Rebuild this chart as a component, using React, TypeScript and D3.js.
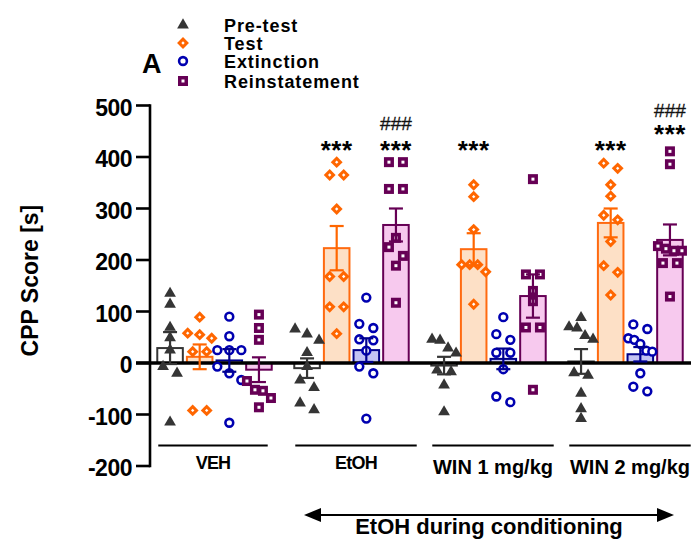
import { useEffect, useRef } from 'react';
import * as d3 from 'd3';

const groups = ['VEH', 'EtOH', 'WIN 1 mg/kg', 'WIN 2 mg/kg'];
const phases = ['Pre-test', 'Test', 'Extinction', 'Reinstatement'];
const yTicks = [-200, -100, 0, 100, 200, 300, 400, 500];

// bar heights (mean) per group
const preTestMean = [29, -10, -5, 3];
const testMean = [12, 223, 221, 272];
const extinctionMean = [5, 25, 8, 17];
const reinstatementMean = [-13, 268, 130, 239];

// SEM per group
const preTestSem = [31, 19, 17, 24];
const testSem = [24, 43, 31, 28];
const extinctionSem = [22, 23, 20, 14];
const reinstatementSem = [24, 32, 42, 30];

// individual animals
const preTestPoints = [
  [135, 114, 69, 49, 25, -7, -20, -115],
  [66, 56, 44, 20, -7, -33, -48, -78, -91],
  [46, 44, 29, 19, -14, -17, -43, -95],
  [88, 70, 68, 46, 53, -19, -24, -59, -89, -108],
];
const testPoints = [
  [89, 48, 55, 58, 22, 22, -92, -92],
  [390, 365, 365, 299, 168, 168, 109, 109, 57],
  [346, 323, 259, 191, 191, 191, 177, 114],
  [388, 378, 346, 324, 278, 287, 236, 189, 176, 132],
];
const extinctionPoints = [
  [90, 52, 25, 25, 25, -7, -20, -33, -116],
  [127, 76, 68, 44, 46, 24, -7, -20, -108],
  [89, 45, 56, 20, 20, -12, -65, -76],
  [75, 66, 48, 45, 37, 24, 22, -20, -46, -55],
];
const reinstatementPoints = [
  [94, 68, 45, -35, -52, -54, -68, -86],
  [390, 390, 338, 338, 243, 225, 208, 189, 117],
  [357, 172, 172, 140, 120, 69, 69, -52],
  [411, 386, 218, 218, 222, 227, 194, 194, 129],
];

// significance marks: vs. pre-test (***) and vs. extinction (###)
const starMarks = [
  { group: 'EtOH', phase: 'Test', value: 395 },
  { group: 'EtOH', phase: 'Reinstatement', value: 395 },
  { group: 'WIN 1 mg/kg', phase: 'Test', value: 395 },
  { group: 'WIN 2 mg/kg', phase: 'Test', value: 395 },
  { group: 'WIN 2 mg/kg', phase: 'Reinstatement', value: 426 },
];
const hashMarks = [
  { group: 'EtOH', phase: 'Reinstatement', value: 452 },
  { group: 'WIN 2 mg/kg', phase: 'Reinstatement', value: 478 },
];

const means = [preTestMean, testMean, extinctionMean, reinstatementMean];
const sems = [preTestSem, testSem, extinctionSem, reinstatementSem];
const points = [preTestPoints, testPoints, extinctionPoints, reinstatementPoints];

const colors = {
  'Pre-test': { mark: '#353535', stroke: '#353535', err: '#353535', fill: '#ffffff' },
  Test: { mark: '#ff6600', stroke: '#ff6a10', err: '#ff6600', fill: '#fde0c6' },
  Extinction: { mark: '#0000b0', stroke: '#000088', err: '#000090', fill: '#c3c3f4' },
  Reinstatement: { mark: '#660055', stroke: '#660055', err: '#660055', fill: '#f7c9ee' },
};

const FONT = '"Liberation Sans", Arial, Helvetica, sans-serif';

function drawMarker(g, phase, x, y) {
  const c = colors[phase].mark;
  if (phase === 'Pre-test') {
    g.append('path')
      .attr('d', d3.symbol(d3.symbolTriangle, 60)())
      .attr('transform', `translate(${x},${y})`)
      .attr('fill', c);
  } else if (phase === 'Test') {
    g.append('rect')
      .attr('x', -4.2).attr('y', -4.2).attr('width', 8.4).attr('height', 8.4)
      .attr('transform', `translate(${x},${y}) rotate(45)`)
      .attr('fill', c);
    g.append('rect')
      .attr('x', -1.2).attr('y', -1.2).attr('width', 2.4).attr('height', 2.4)
      .attr('transform', `translate(${x},${y}) rotate(45)`)
      .attr('fill', '#fff');
  } else if (phase === 'Extinction') {
    g.append('circle')
      .attr('cx', x).attr('cy', y).attr('r', 3.9)
      .attr('fill', '#fff').attr('stroke', c).attr('stroke-width', 2.6);
  } else {
    g.append('rect')
      .attr('x', x - 5).attr('y', y - 5).attr('width', 10).attr('height', 10)
      .attr('fill', c);
    g.append('rect')
      .attr('x', x - 1.5).attr('y', y - 1.5).attr('width', 3).attr('height', 3)
      .attr('fill', '#fff');
  }
}

// spread points that overlap vertically into small side-by-side clusters
function jitter(values, y, maxWidth) {
  const idx = values.map((v, i) => i).sort((a, b) => values[b] - values[a]);
  const offsets = new Array(values.length).fill(0);
  let cluster = [];
  const flush = () => {
    const n = cluster.length;
    const step = n > 1 ? Math.min(14, maxWidth / (n - 1)) : 0;
    cluster.forEach((k, j) => { offsets[k] = (j - (n - 1) / 2) * step; });
    cluster = [];
  };
  idx.forEach((k) => {
    if (cluster.length && y(values[k]) - y(values[cluster[cluster.length - 1]]) >= 9) flush();
    cluster.push(k);
  });
  flush();
  return offsets;
}

const CppChart = ({ width = 691, height = 539 }) => {
  const svgRef = useRef();

  useEffect(() => {
    document.body.style.margin = '0';
    const svg = d3.select(svgRef.current);
    svg.selectAll('*').remove();
    svg.attr('width', width).attr('height', height).style('font-family', FONT).style('display', 'block');

    const y = d3.scaleLinear().domain([-200, 500]).range([466, 105.5]);
    const x0 = d3.scaleBand().domain(groups).range([146, 694]).paddingInner(0.15).paddingOuter(0.075);
    const x1 = d3.scaleBand().domain(phases).range([0, x0.bandwidth()]).paddingInner(0.07);
    const cx = (g, p) => x0(g) + x1(p) + x1.bandwidth() / 2;

    // bars
    const bars = svg.append('g');
    phases.forEach((p, pi) => {
      groups.forEach((g, gi) => {
        const v = means[pi][gi];
        bars.append('rect')
          .attr('x', x0(g) + x1(p) + 1)
          .attr('width', x1.bandwidth() - 2)
          .attr('y', y(Math.max(0, v)))
          .attr('height', Math.abs(y(v) - y(0)))
          .attr('fill', colors[p].fill)
          .attr('stroke', colors[p].stroke)
          .attr('stroke-width', 2);
      });
    });

    // zero line + y axis
    svg.append('line')
      .attr('x1', 136).attr('x2', width).attr('y1', y(0)).attr('y2', y(0))
      .attr('stroke', '#000').attr('stroke-width', 3.5);
    svg.append('line')
      .attr('x1', 150).attr('x2', 150).attr('y1', y(-200) + 1.3).attr('y2', y(500) - 1.3)
      .attr('stroke', '#000').attr('stroke-width', 2.6);
    const ticks = svg.append('g');
    yTicks.forEach((t) => {
      ticks.append('line')
        .attr('x1', 136).attr('x2', 150).attr('y1', y(t)).attr('y2', y(t))
        .attr('stroke', '#000').attr('stroke-width', 2.6);
      ticks.append('text')
        .attr('x', 132).attr('y', y(t) + 2).attr('dy', '0.36em')
        .attr('text-anchor', 'end')
        .style('font-size', '23px').style('font-weight', 'bold')
        .style('letter-spacing', '-0.5px')
        .text(t);
    });
    svg.append('text')
      .attr('transform', `translate(30, ${y(160)}) rotate(-90)`)
      .attr('text-anchor', 'middle').attr('dy', '0.36em')
      .style('font-size', '23px').style('font-weight', 'bold')
      .text('CPP Score [s]');

    // individual points
    const dots = svg.append('g');
    phases.forEach((p, pi) => {
      groups.forEach((g, gi) => {
        const vals = points[pi][gi];
        const offs = jitter(vals, y, 24);
        vals.forEach((v, k) => drawMarker(dots, p, cx(g, p) + offs[k], y(v)));
      });
    });

    // error bars
    const errs = svg.append('g');
    phases.forEach((p, pi) => {
      groups.forEach((g, gi) => {
        const m = means[pi][gi];
        const s = sems[pi][gi];
        const xc = cx(g, p);
        const col = colors[p].err;
        errs.append('line')
          .attr('x1', xc).attr('x2', xc).attr('y1', y(m - s)).attr('y2', y(m + s))
          .attr('stroke', col).attr('stroke-width', 2.2);
        [m - s, m + s].forEach((e) => {
          errs.append('line')
            .attr('x1', xc - 7).attr('x2', xc + 7).attr('y1', y(e)).attr('y2', y(e))
            .attr('stroke', col).attr('stroke-width', 2.2);
        });
      });
    });

    // significance marks
    starMarks.forEach((s) => {
      svg.append('text')
        .attr('x', cx(s.group, s.phase)).attr('y', y(s.value) - 1)
        .attr('text-anchor', 'middle')
        .style('font-size', '26px').style('font-weight', 'bold')
        .style('letter-spacing', '0.5px')
        .text('***');
    });
    hashMarks.forEach((s) => {
      svg.append('text')
        .attr('x', cx(s.group, s.phase)).attr('y', y(s.value))
        .attr('text-anchor', 'middle').attr('fill', '#111')
        .attr('stroke', '#111').attr('stroke-width', 0.3)
        .style('font-size', '19px')
        .text('###');
    });

    // group underlines and labels
    const gl = svg.append('g');
    groups.forEach((g, gi) => {
      const a = x0(g) + 2;
      const b = x0(g) + x0.bandwidth() + (gi === 0 ? -5 : 7);
      gl.append('line')
        .attr('x1', a).attr('x2', b).attr('y1', 445.5).attr('y2', 445.5)
        .attr('stroke', '#000').attr('stroke-width', 2);
      const small = gi < 2;
      gl.append('text')
        .attr('x', (a + b) / 2).attr('y', small ? 469 : 474)
        .attr('text-anchor', 'middle')
        .style('font-size', small ? '18px' : '20px').style('font-weight', 'bold')
        .style('letter-spacing', small ? '-0.8px' : '0px')
        .text(g);
    });

    // conditioning arrow
    const ax0 = 304;
    const ax1 = 674;
    const ay = 515;
    svg.append('line')
      .attr('x1', ax0 + 12).attr('x2', ax1 - 12).attr('y1', ay).attr('y2', ay)
      .attr('stroke', '#000').attr('stroke-width', 2);
    svg.append('path').attr('d', `M${ax0},${ay}L${ax0 + 17},${ay - 7}L${ax0 + 17},${ay + 7}Z`).attr('fill', '#000');
    svg.append('path').attr('d', `M${ax1},${ay}L${ax1 - 17},${ay - 7}L${ax1 - 17},${ay + 7}Z`).attr('fill', '#000');
    svg.append('text')
      .attr('x', (ax0 + ax1) / 2).attr('y', 534)
      .attr('text-anchor', 'middle')
      .style('font-size', '22px').style('font-weight', 'bold')
      .text('EtOH during conditioning');

    // panel letter + legend
    svg.append('text')
      .attr('x', 142).attr('y', 73)
      .style('font-size', '27px').style('font-weight', 'bold')
      .text('A');
    const leg = svg.append('g');
    const legY = [25, 43, 61, 81];
    phases.forEach((p, i) => {
      drawMarker(leg, p, 183, legY[i]);
      leg.append('text')
        .attr('x', 224).attr('y', legY[i] + 6.5)
        .style('font-size', '18px').style('font-weight', 'bold')
        .style('letter-spacing', '0.9px')
        .text(p);
    });
  }, [width, height]);

  return <svg ref={svgRef}></svg>;
};

export default function App() {
  return <CppChart />;
}
